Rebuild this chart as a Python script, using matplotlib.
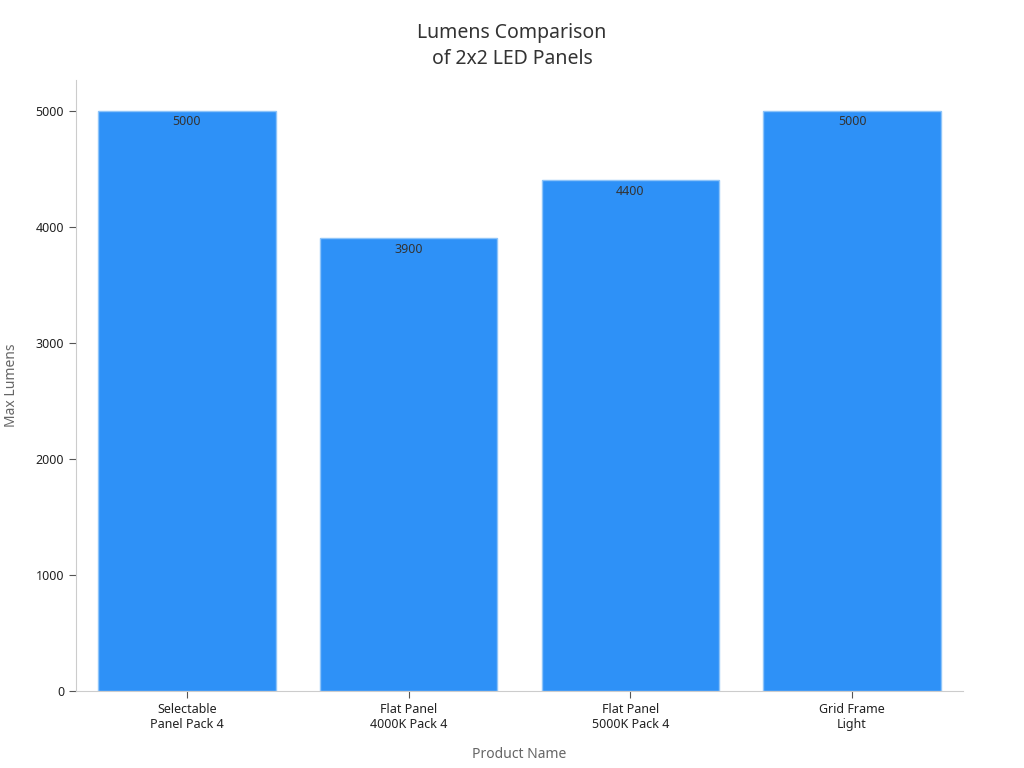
import matplotlib
matplotlib.use("Agg")
import matplotlib.pyplot as plt

plt.rcParams['font.family'] = ['Noto Sans', 'DejaVu Sans']

products = ["Selectable\nPanel Pack 4", "Flat Panel\n4000K Pack 4",
            "Flat Panel\n5000K Pack 4", "Grid Frame\nLight"]
lumens = [5000, 3900, 4400, 5000]

barColour = '#2E91F7'
edgeColour = '#8EC4F9'
textColour = '#333333'
spineColour = '#CCCCCC'

fig = plt.figure(figsize=(10.24, 7.68), dpi=100)
ax = fig.add_axes([76/1024, 1 - 691/768, (963-76)/1024, (691-80)/768])

x = range(len(products))
bars = ax.bar(x, lumens, width=0.8, color=barColour, edgecolor=edgeColour, linewidth=1)
for b, v in zip(bars, lumens):
    ax.text(b.get_x() + b.get_width()/2, v - 40, str(v), ha='center', va='top',
            fontsize=9, color=textColour)

ax.set_xlim(-0.5, 3.5)
ax.set_ylim(0, 5265)
ax.set_xticks(list(x))
ax.set_xticklabels(products, fontsize=9, color='#222222')
ax.set_yticks([0, 1000, 2000, 3000, 4000, 5000])
ax.tick_params(axis='y', labelsize=9, colors='#222222', length=5, color='#555555')
ax.tick_params(axis='x', length=5, color='#555555')
for s in ['top', 'right']:
    ax.spines[s].set_visible(False)
for s in ['left', 'bottom']:
    ax.spines[s].set_color(spineColour)

ax.set_xlabel("Product Name", fontsize=10, color='#666666', labelpad=12)
ax.set_ylabel("Max Lumens", fontsize=10, color='#666666', labelpad=12)
fig.text(512/1024, 1 - 46/768, "Lumens Comparison\nof 2x2 LED Panels", ha='center', va='center',
         fontsize=14, color=textColour, linespacing=1.4)

fig.savefig("out.png", dpi=100)
